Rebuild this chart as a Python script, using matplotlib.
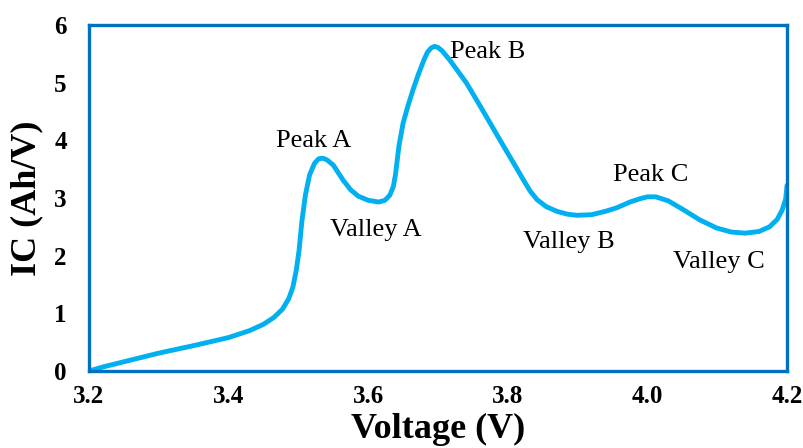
import matplotlib
matplotlib.use("Agg")
from matplotlib import pyplot as plt

# incremental capacity curve
voltage = [3.200, 3.220, 3.250, 3.300, 3.350, 3.400, 3.430, 3.450, 3.465,
           3.477, 3.486, 3.492, 3.497, 3.501, 3.505, 3.510, 3.516, 3.523,
           3.529, 3.535, 3.541, 3.550, 3.564, 3.575, 3.586, 3.600, 3.615,
           3.624, 3.631, 3.636, 3.639, 3.641, 3.644, 3.650, 3.657, 3.664,
           3.672, 3.680, 3.685, 3.690, 3.695, 3.700, 3.706, 3.717, 3.741,
           3.765, 3.789, 3.810, 3.822, 3.832, 3.842, 3.855, 3.870, 3.885,
           3.899, 3.920, 3.940, 3.956, 3.975, 3.990, 4.000, 4.012, 4.030,
           4.051, 4.075, 4.099, 4.120, 4.140, 4.160, 4.175, 4.186, 4.193,
           4.198, 4.200]
ic = [0.00, 0.07, 0.16, 0.31, 0.44, 0.58, 0.70, 0.81, 0.93,
      1.07, 1.25, 1.45, 1.75, 2.10, 2.60, 3.05, 3.40, 3.60,
      3.68, 3.69, 3.66, 3.57, 3.31, 3.14, 3.03, 2.96, 2.93,
      2.96, 3.05, 3.20, 3.40, 3.60, 3.90, 4.30, 4.60, 4.87,
      5.15, 5.40, 5.53, 5.60, 5.63, 5.61, 5.55, 5.39, 4.99,
      4.50, 4.00, 3.57, 3.32, 3.12, 2.97, 2.85, 2.77, 2.72,
      2.70, 2.71, 2.77, 2.83, 2.93, 2.99, 3.02, 3.02, 2.95,
      2.80, 2.62, 2.48, 2.41, 2.39, 2.42, 2.50, 2.63, 2.79,
      2.98, 3.22]

labels = ["Peak A", "Valley A", "Peak B", "Valley B", "Peak C", "Valley C"]
label_x = [3.468, 3.545, 3.717, 3.822, 3.951, 4.037]
label_y = [3.88, 2.34, 5.42, 2.13, 3.29, 1.78]

x_ticks = [3.2, 3.4, 3.6, 3.8, 4.0, 4.2]
y_ticks = [0, 1, 2, 3, 4, 5, 6]

frame_color = "#0070C0"
line_color = "#00B0F0"
serif = "Liberation Serif"
plt.rcParams["font.family"] = serif

fig = plt.figure(figsize=(8.04, 4.48), dpi=100)
ax = fig.add_axes([0.1107, 0.1719, 0.8682, 0.7723])

ax.plot(voltage, ic, color=line_color, linewidth=3.5,
        solid_joinstyle="round", solid_capstyle="round")

for txt, tx, ty in zip(labels, label_x, label_y):
    ax.text(tx, ty, txt, fontsize=19, ha="left", va="baseline")

ax.set_xlim(3.2, 4.2)
ax.set_ylim(0, 6)
ax.set_xticks(x_ticks)
ax.set_xticklabels([f"{v:.1f}" for v in x_ticks],
                   fontsize=18, fontweight="bold")
ax.set_yticks(y_ticks)
ax.set_yticklabels([str(v) for v in y_ticks],
                   fontsize=18, fontweight="bold")
ax.tick_params(length=0)
ax.tick_params(axis="x", pad=10)
ax.tick_params(axis="y", pad=16)

for sp in ax.spines.values():
    sp.set_color(frame_color)
    sp.set_linewidth(2.4)

ax.set_xlabel("Voltage (V)", fontsize=26, fontweight="bold", labelpad=4)
ax.set_ylabel("IC (Ah/V)", fontsize=26, fontweight="bold", labelpad=8)

fig.savefig("out.png", dpi=100)
